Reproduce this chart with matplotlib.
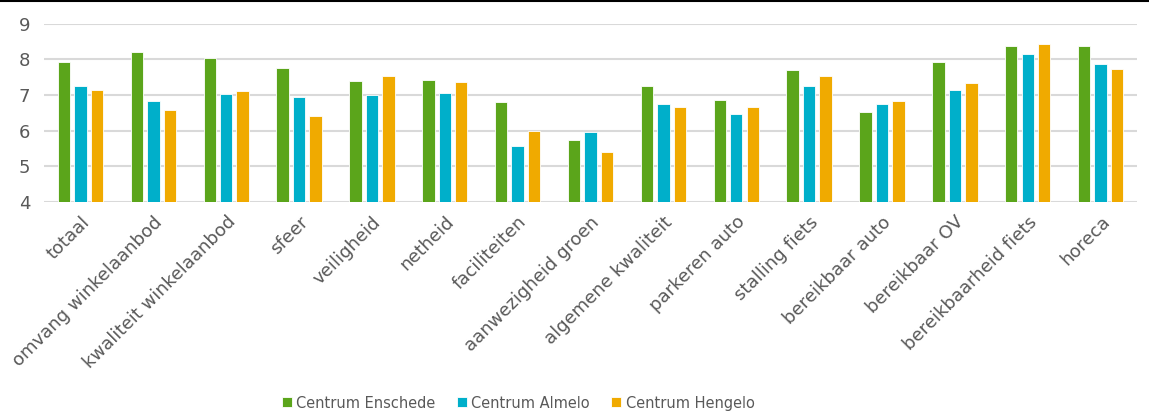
import numpy as np
import matplotlib.pyplot as plt

categorieen = ["totaal", "omvang winkelaanbod", "kwaliteit winkelaanbod", "sfeer", "veiligheid",
               "netheid", "faciliteiten", "aanwezigheid groen", "algemene kwaliteit", "parkeren auto",
               "stalling fiets", "bereikbaar auto", "bereikbaar OV", "bereikbaarheid fiets", "horeca"]
enschede = [7.93, 8.20, 8.04, 7.77, 7.40, 7.42, 6.80, 5.74, 7.26, 6.86, 7.70, 6.52, 7.93, 8.37, 8.37]
almelo = [7.26, 6.83, 7.04, 6.94, 7.01, 7.07, 5.56, 5.96, 6.76, 6.47, 7.26, 6.76, 7.13, 8.16, 7.86]
hengelo = [7.15, 6.58, 7.10, 6.40, 7.53, 7.37, 5.99, 5.41, 6.66, 6.66, 7.53, 6.83, 7.34, 8.43, 7.74]
reeksen = ["Centrum Enschede", "Centrum Almelo", "Centrum Hengelo"]
kleuren = ["#5BA51B", "#00AFCA", "#F0AA00"]

fig = plt.figure(figsize=(11.49, 4.18), dpi=100)
ax = fig.add_axes([0.0383, 0.517, 0.9513, 0.426])

x = np.arange(len(categorieen))
breedte = 0.17
stap = 0.226
for i, (waarden, naam, kleur) in enumerate(zip([enschede, almelo, hengelo], reeksen, kleuren)):
    ax.bar(x + (i - 1) * stap, np.array(waarden) - 4, bottom=4, width=breedte, color=kleur,
           edgecolor="white", linewidth=0.6, label=naam, zorder=3)

ax.set_xlim(-0.5, len(categorieen) - 0.5)
ax.set_ylim(4, 9)
ax.set_yticks(range(4, 10))
ax.yaxis.grid(True, color="#D9D9D9", linewidth=1.5, zorder=0)
for s in ax.spines.values():
    s.set_visible(False)
ax.tick_params(axis="both", length=0, colors="#595959")
ax.tick_params(axis="y", pad=10, labelsize=13)
ax.tick_params(axis="x", pad=8, labelsize=13)
ax.set_xticks(x)
ax.set_xticklabels(categorieen, rotation=45, ha="right", rotation_mode="anchor")

fig.legend(loc="lower center", bbox_to_anchor=(0.451, -0.018), ncol=3, frameon=False,
           prop={"size": 11.7, "stretch": "condensed"}, handlelength=0.6, handleheight=0.6,
           handletextpad=0.3, columnspacing=1.3, labelcolor="#595959")

fig.add_artist(plt.Line2D([0, 1], [0.997, 0.997], color="black", linewidth=1.5))

fig.savefig("out.png", dpi=100)
